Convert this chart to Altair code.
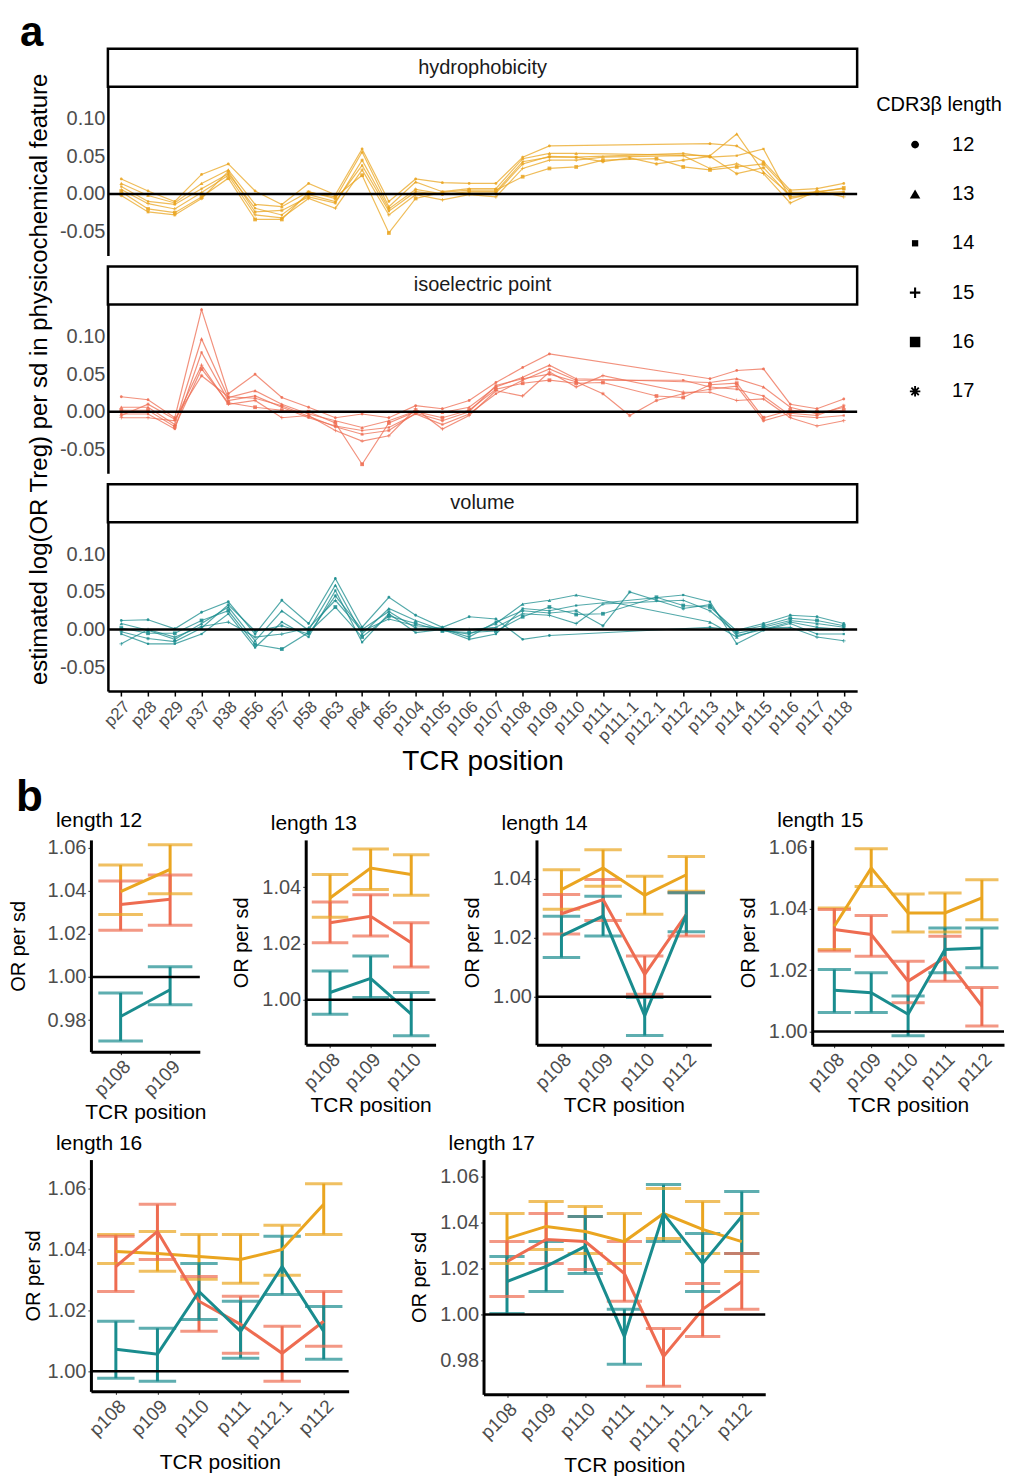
import altair as alt
import pandas as pd

FONT = "Liberation Sans"
GREY = "#4D4D4D"

# ---------------- panel a data ----------------
POSITIONS = ["p27", "p28", "p29", "p37", "p38", "p56", "p57", "p58", "p63", "p64", "p65",
             "p104", "p105", "p106", "p107", "p108", "p109", "p110", "p111", "p111.1",
             "p112.1", "p112", "p113", "p114", "p115", "p116", "p117", "p118"]
LENGTHS = ["12", "13", "14", "15", "16", "17"]
FEATURES = ["hydrophobicity", "isoelectric point", "volume"]
FEATURE_COLORS = ["#EAA520", "#EE6C51", "#198C8E"]
Y_TITLE_A = "estimated log(OR Treg) per sd in physicochemical feature"
N = None

# rows = positions (same order as POSITIONS), columns = CDR3b length 12..17
HYD = [
    [0.020, 0.014, 0.010, 0.006, 0.003, -0.002],
    [0.004, -0.002, -0.010, -0.013, -0.020, -0.024],
    [-0.010, -0.012, -0.014, -0.020, -0.025, -0.028],
    [0.026, 0.014, 0.007, 0.002, -0.004, -0.006],
    [0.040, 0.032, 0.027, 0.025, 0.021, 0.030],
    [0.004, -0.014, -0.019, -0.028, -0.034, -0.024],
    [-0.014, -0.017, -0.028, -0.032, -0.034, -0.022],
    [0.014, 0.003, -0.001, -0.006, 0.002, -0.004],
    [-0.001, -0.006, -0.010, -0.019, -0.004, -0.012],
    [0.060, 0.056, 0.038, 0.032, 0.025, 0.045],
    [-0.010, -0.017, -0.023, -0.028, -0.052, -0.020],
    [0.020, 0.016, 0.003, -0.001, -0.006, 0.006],
    [0.015, 0.003, -0.001, -0.008, 0.002, 0.000],
    [0.014, 0.007, 0.003, -0.001, 0.005, 0.001],
    [0.014, 0.007, 0.003, -0.004, 0.005, 0.001],
    [0.049, 0.047, 0.043, 0.034, 0.023, 0.040],
    [0.064, 0.054, 0.049, 0.045, 0.034, 0.050],
    [N, 0.054, 0.049, 0.045, 0.036, 0.049],
    [N, N, N, 0.049, 0.045, 0.043],
    [N, N, N, N, N, 0.048],
    [N, N, N, N, 0.047, 0.040],
    [N, N, 0.054, 0.051, 0.036, 0.045],
    [0.067, 0.051, 0.049, 0.034, 0.032, 0.050],
    [0.064, 0.080, 0.051, 0.040, 0.036, 0.027],
    [0.043, 0.029, 0.060, 0.027, 0.040, 0.035],
    [0.005, -0.001, -0.006, -0.012, 0.002, -0.004],
    [0.007, 0.003, 0.001, 0.004, 0.002, 0.000],
    [0.014, 0.007, 0.003, -0.004, 0.008, 0.001],
]
ISO = [
    [0.020, 0.006, -0.003, -0.008, 0.002, -0.005],
    [0.016, 0.006, -0.003, -0.008, 0.002, 0.010],
    [-0.008, -0.017, -0.023, -0.012, -0.020, -0.010],
    [0.136, 0.097, 0.079, 0.062, 0.057, 0.048],
    [0.024, 0.019, 0.015, 0.010, 0.012, 0.020],
    [0.050, 0.028, 0.021, 0.015, 0.006, 0.018],
    [0.019, 0.010, 0.006, -0.008, 0.002, 0.008],
    [0.006, -0.003, -0.008, -0.005, 0.000, -0.006],
    [-0.008, -0.012, -0.019, -0.025, -0.015, -0.020],
    [-0.003, -0.021, -0.025, -0.039, -0.070, -0.030],
    [-0.008, -0.012, -0.021, -0.032, -0.015, -0.025],
    [0.008, 0.001, -0.003, 0.004, 0.000, -0.002],
    [0.004, -0.001, -0.017, -0.023, -0.008, -0.012],
    [0.015, 0.006, -0.003, -0.005, 0.002, 0.000],
    [0.039, 0.033, 0.024, 0.028, 0.030, 0.035],
    [0.059, 0.046, 0.042, 0.021, 0.038, 0.044],
    [0.077, 0.062, 0.057, 0.053, 0.042, 0.050],
    [N, 0.044, 0.042, 0.033, 0.038, 0.040],
    [N, N, N, 0.048, 0.039, 0.024],
    [N, N, N, N, N, -0.005],
    [N, N, N, N, 0.021, 0.015],
    [N, N, 0.042, 0.026, 0.019, 0.024],
    [0.044, 0.039, 0.033, 0.026, 0.036, 0.030],
    [0.055, 0.044, 0.030, 0.015, 0.038, 0.034],
    [0.057, 0.033, 0.021, 0.017, -0.008, -0.012],
    [0.010, 0.006, -0.005, -0.008, 0.002, -0.002],
    [0.004, -0.003, -0.008, -0.019, 0.000, -0.005],
    [0.017, 0.006, -0.005, -0.012, 0.002, 0.008],
]
VOL = [
    [0.012, 0.008, -0.006, -0.019, 0.002, -0.003],
    [0.013, -0.001, -0.019, 0.000, -0.005, -0.012],
    [0.001, -0.013, -0.019, -0.010, -0.005, -0.016],
    [0.023, 0.008, -0.006, 0.004, 0.012, 0.002],
    [0.037, 0.030, 0.021, 0.010, 0.025, 0.033],
    [-0.006, -0.015, -0.024, -0.010, -0.020, -0.002],
    [0.039, 0.025, 0.010, -0.006, -0.026, 0.005],
    [0.008, -0.001, -0.010, 0.002, -0.004, -0.006],
    [0.068, 0.059, 0.052, 0.039, 0.030, 0.045],
    [0.003, -0.006, -0.017, -0.002, -0.010, 0.000],
    [0.043, 0.028, 0.021, 0.014, 0.018, 0.024],
    [0.019, 0.012, -0.004, 0.005, 0.008, 0.002],
    [0.003, -0.001, 0.000, 0.002, -0.002, 0.001],
    [0.017, -0.006, -0.013, 0.000, -0.004, -0.010],
    [0.014, 0.008, -0.006, 0.003, -0.002, 0.010],
    [-0.013, 0.034, 0.028, 0.021, 0.017, 0.025],
    [-0.008, 0.039, 0.025, 0.019, 0.030, 0.022],
    [N, 0.046, 0.032, 0.008, 0.020, 0.025],
    [N, N, N, 0.034, 0.021, 0.005],
    [N, N, N, N, N, 0.050],
    [N, N, N, N, 0.043, 0.039],
    [N, N, 0.046, 0.039, 0.032, 0.028],
    [0.003, 0.010, 0.037, 0.025, 0.030, 0.033],
    [-0.001, -0.010, -0.019, -0.005, -0.002, -0.008],
    [0.008, 0.003, -0.001, 0.002, 0.005, 0.000],
    [0.019, 0.012, 0.008, 0.003, 0.015, 0.010],
    [0.017, 0.008, -0.006, -0.010, 0.012, 0.003],
    [0.008, 0.003, -0.006, -0.015, 0.005, 0.000],
]

# ---------------- panel b data: (estimate, lower, upper) ----------------
L12_POS = ["p108", "p109"]
L12_HYD = [(1.0395, 1.0290, 1.0519), (1.0499, 1.0386, 1.0612)]
L12_ISO = [(1.0336, 1.0216, 1.0445), (1.0360, 1.0240, 1.0473)]
L12_VOL = [(0.9817, 0.9704, 0.9926), (0.9941, 0.9871, 1.0047)]

L13_POS = ["p108", "p109", "p110"]
L13_HYD = [(1.0361, 1.0293, 1.0444), (1.0467, 1.0391, 1.0535), (1.0444, 1.0371, 1.0514)]
L13_ISO = [(1.0273, 1.0202, 1.0347), (1.0296, 1.0226, 1.0373), (1.0202, 1.0116, 1.0273)]
L13_VOL = [(1.0026, 0.9949, 1.0102), (1.0076, 1.0008, 1.0155), (0.9949, 0.9873, 1.0026)]

L14_POS = ["p108", "p109", "p110", "p112"]
L14_HYD = [(1.0363, 1.0296, 1.0430), (1.0436, 1.0374, 1.0498), (1.0344, 1.0279, 1.0408), (1.0413, 1.0357, 1.0475)]
L14_ISO = [(1.0281, 1.0213, 1.0346), (1.0329, 1.0258, 1.0397), (1.0076, 1.0009, 1.0138), (1.0279, 1.0206, 1.0352)]
L14_VOL = [(1.0206, 1.0133, 1.0273), (1.0273, 1.0206, 1.0340), (0.9936, 0.9869, 0.9998), (1.0279, 1.0220, 1.0352)]

L15_POS = ["p108", "p109", "p110", "p111", "p112"]
L15_HYD = [(1.0343, 1.0267, 1.0402), (1.0532, 1.0472, 1.0595), (1.0386, 1.0324, 1.0448),
           (1.0386, 1.0324, 1.0451), (1.0435, 1.0364, 1.0494)]
L15_ISO = [(1.0332, 1.0262, 1.0397), (1.0316, 1.0245, 1.0378), (1.0164, 1.0094, 1.0229),
           (1.0240, 1.0164, 1.0310), (1.0083, 1.0018, 1.0143)]
L15_VOL = [(1.0134, 1.0062, 1.0202), (1.0126, 1.0062, 1.0191), (1.0056, 0.9986, 1.0116),
           (1.0267, 1.0191, 1.0337), (1.0272, 1.0208, 1.0337)]

L16_POS = ["p108", "p109", "p110", "p111", "p112.1", "p112"]
L16_HYD = [(1.0393, 1.0354, 1.0449), (1.0387, 1.0328, 1.0459), (1.0377, 1.0302, 1.0449),
           (1.0367, 1.0289, 1.0449), (1.0400, 1.0315, 1.0479), (1.0548, 1.0449, 1.0616)]
L16_ISO = [(1.0344, 1.0262, 1.0443), (1.0459, 1.0367, 1.0548), (1.0230, 1.0131, 1.0311),
           (1.0154, 1.0059, 1.0246), (1.0059, 0.9967, 1.0148), (1.0164, 1.0082, 1.0262)]
L16_VOL = [(1.0072, 0.9977, 1.0164), (1.0056, 0.9967, 1.0141), (1.0262, 1.0170, 1.0354),
           (1.0131, 1.0043, 1.0230), (1.0344, 1.0252, 1.0443), (1.0131, 1.0039, 1.0213)]

L17_POS = ["p108", "p109", "p110", "p111", "p111.1", "p112.1", "p112"]
L17_HYD = [(1.0330, 1.0222, 1.0439), (1.0383, 1.0283, 1.0491), (1.0361, 1.0265, 1.0470),
           (1.0317, 1.0222, 1.0439), (1.0439, 1.0330, 1.0548), (1.0370, 1.0265, 1.0491),
           (1.0317, 1.0187, 1.0439)]
L17_ISO = [(1.0230, 1.0078, 1.0317), (1.0326, 1.0222, 1.0439), (1.0317, 1.0196, 1.0426),
           (1.0178, 1.0057, 1.0317), (0.9817, 0.9687, 0.9939), (1.0022, 0.9904, 1.0135),
           (1.0143, 1.0022, 1.0265)]
L17_VOL = [(1.0143, 1.0004, 1.0252), (1.0209, 1.0100, 1.0317), (1.0296, 1.0178, 1.0426),
           (0.9904, 0.9783, 1.0022), (1.0439, 1.0317, 1.0565), (1.0222, 1.0100, 1.0352),
           (1.0426, 1.0265, 1.0535)]

# ---------------- shapes ----------------
CIRCLE_S = "M0,-0.75A0.75,0.75,0,1,1,0,0.75A0.75,0.75,0,1,1,0,-0.75Z"
SMALL_SQ = "M-0.6,-0.6L0.6,-0.6L0.6,0.6L-0.6,0.6Z"
PLUS = "M-0.2,-1L0.2,-1L0.2,-0.2L1,-0.2L1,0.2L0.2,0.2L0.2,1L-0.2,1L-0.2,0.2L-1,0.2L-1,-0.2L-0.2,-0.2Z"
ASTERISK = ("M-0.18,-1L0.18,-1L0.18,1L-0.18,1Z M1,-0.18L1,0.18L-1,0.18L-1,-0.18Z "
            "M0.58,-0.83L0.83,-0.58L-0.58,0.83L-0.83,0.58Z M0.83,0.58L0.58,0.83L-0.83,-0.58L-0.58,-0.83Z")
SHAPES = [CIRCLE_S, "triangle-up", SMALL_SQ, PLUS, "square", ASTERISK]
shape_scale = alt.Scale(domain=LENGTHS, range=SHAPES)

HYPHEN_LABEL = "replace(format(datum.value, '.2f'), '\u2212', '-')"

# ---------------- panel a ----------------
rows = []
for feat, table in zip(FEATURES, [HYD, ISO, VOL]):
    for i, (pos, vals) in enumerate(zip(POSITIONS, table)):
        for L, v in zip(LENGTHS, vals):
            if v is not None:
                rows.append({"feature": feat, "position": pos, "idx": i, "length": L, "value": v})
df_a = pd.DataFrame(rows)

A_PLOT_W, A_SHIFT, A_H, STRIP_H = 750, 17, 207, 38
A_W = A_PLOT_W + A_SHIFT
A_YDOM = [-0.082, 0.143]


def panel_a(feat, color, which):
    d = df_a[df_a.feature == feat]
    if which == 2:
        xaxis = alt.Axis(title="TCR position", labelAngle=-45, labelAlign="right", labelBaseline="top",
                         labelFontSize=17, labelColor=GREY, labelPadding=2, tickColor="black",
                         tickSize=5, tickWidth=1.5, domainColor="black", domainWidth=2.5,
                         titleFontSize=28, titleFontWeight="normal", titleColor="black", titlePadding=2,
                         titleX=A_SHIFT + A_PLOT_W / 2)
    else:
        xaxis = None
    x = alt.X("position:N", scale=alt.Scale(type="point", domain=POSITIONS, padding=0.5,
                                            range=[A_SHIFT, A_W]), axis=xaxis)
    y = alt.Y("value:Q", scale=alt.Scale(domain=A_YDOM, range=[A_H, STRIP_H], nice=False, zero=False),
              axis=alt.Axis(values=[-0.05, 0, 0.05, 0.1], labelExpr=HYPHEN_LABEL, title=None, grid=False,
                            ticks=False, labelFontSize=20, labelColor=GREY, labelPadding=3,
                            domainColor="black", domainWidth=2.5, offset=-A_SHIFT))
    lines = alt.Chart(d).mark_line(color=color, strokeWidth=1.2, opacity=0.75).encode(
        x=x, y=y, detail="length:N", order="idx:Q")
    pts = alt.Chart(d).mark_point(filled=True, color=color, size=14, opacity=0.85).encode(
        x=x, y=y, shape=alt.Shape("length:N", scale=shape_scale, legend=None))
    zero = alt.Chart(pd.DataFrame({"value": [0.0]})).mark_rule(color="black", strokeWidth=2.5).encode(
        y=y, x=alt.value(A_SHIFT), x2=alt.value(A_W))
    sdf = pd.DataFrame({"feature": [feat]})
    strip = alt.Chart(sdf).mark_rect(fill="white", stroke="black", strokeWidth=2.5).encode(
        x=alt.value(A_SHIFT), x2=alt.value(A_W), y=alt.value(0), y2=alt.value(STRIP_H))
    stext = alt.Chart(sdf).mark_text(font=FONT, fontSize=20, color="#1A1A1A").encode(
        x=alt.value(A_SHIFT + A_PLOT_W / 2), y=alt.value(STRIP_H / 2), text="feature:N")
    layers = [lines, pts, zero, strip, stext]
    if which == 1:
        ttl = alt.Chart(pd.DataFrame({"t": [Y_TITLE_A]})).mark_text(
            angle=270, align="center", baseline="middle", fontSize=24, font=FONT, color="black").encode(
            x=alt.value(A_SHIFT - 68), y=alt.value(113), text="t:N")
        layers.append(ttl)
    return alt.layer(*layers).properties(width=A_W, height=A_H)


rowA = alt.vconcat(
    panel_a(FEATURES[0], FEATURE_COLORS[0], 0),
    panel_a(FEATURES[1], FEATURE_COLORS[1], 1),
    panel_a(FEATURES[2], FEATURE_COLORS[2], 2),
    spacing=11, bounds="flush",
)

# legend drawn as a small chart
leg_df = pd.DataFrame({"length": LENGTHS})
ly = alt.Y("length:N", scale=alt.Scale(type="point", domain=LENGTHS, range=[96, 343], padding=0), axis=None)
leg_pts = alt.Chart(leg_df).mark_point(filled=True, color="black", size=110, opacity=1).encode(
    x=alt.value(39), y=ly, shape=alt.Shape("length:N", scale=shape_scale, legend=None))
leg_txt = alt.Chart(leg_df).mark_text(align="left", baseline="middle", fontSize=20, font=FONT,
                                      color="black").encode(x=alt.value(76), y=ly, text="length:N")
leg_title = alt.Chart(pd.DataFrame({"t": ["CDR3β length"]})).mark_text(
    align="left", baseline="middle", fontSize=20, font=FONT, color="black").encode(
    x=alt.value(0), y=alt.value(56), text="t:N")
legend = alt.layer(leg_title, leg_pts, leg_txt).properties(width=120, height=360)

topA = alt.hconcat(rowA, legend, spacing=17)


# ---------------- panel b ----------------
def panel_b(L, pos, hyd, iso, vol, w, h, ydom, yticks, tpad):
    rws = []
    for feat, vals in zip(FEATURES, [hyd, iso, vol]):
        for i, (p, (e, lo, hi)) in enumerate(zip(pos, vals)):
            rws.append({"feature": feat, "position": p, "idx": i, "est": e, "lo": lo, "hi": hi})
    d = pd.DataFrame(rws)
    step = w / (len(pos) - 1 + 1.2)
    x = alt.X("position:N", scale=alt.Scale(type="point", domain=pos, padding=0.6),
              axis=alt.Axis(title="TCR position", labelAngle=-45, labelAlign="right", labelBaseline="top",
                            labelFontSize=19, labelColor=GREY, labelPadding=2, tickColor="#333333",
                            tickSize=3, domainColor="black", domainWidth=3, titleFontSize=21,
                            titleFontWeight="normal", titleColor="black", titlePadding=2))
    yscale = alt.Scale(domain=ydom, nice=False, zero=False)
    yaxis = alt.Axis(values=yticks, format=".2f", title="OR per sd", grid=False, labelFontSize=20,
                     labelColor=GREY, labelPadding=2, tickColor="#333333", tickSize=3,
                     domainColor="black", domainWidth=3, titleFontSize=20, titleFontWeight="normal",
                     titleColor="black", titlePadding=tpad)

    def yd(field):
        return alt.Y(field + ":Q", scale=yscale, axis=yaxis)

    color = alt.Color("feature:N", scale=alt.Scale(domain=FEATURES, range=FEATURE_COLORS), legend=None)
    bars = alt.Chart(d).mark_rule(strokeWidth=3).encode(x=x, y=yd("lo"), y2="hi:Q", color=color)
    cap_lo = alt.Chart(d).mark_tick(thickness=3, size=0.9 * step).encode(x=x, y=yd("lo"), color=color)
    cap_hi = alt.Chart(d).mark_tick(thickness=3, size=0.9 * step).encode(x=x, y=yd("hi"), color=color)
    line = alt.Chart(d).mark_line(strokeWidth=3).encode(x=x, y=yd("est"), color=color, order="idx:Q",
                                                        detail="feature:N")
    one = alt.Chart(pd.DataFrame({"est": [1.0]})).mark_rule(color="black", strokeWidth=2.5).encode(y=yd("est"))
    return alt.layer(bars, cap_lo, cap_hi, line, one).properties(
        width=w, height=h,
        title=alt.TitleParams("length " + L, anchor="start", frame="group", dx=-35, fontSize=21,
                              fontWeight="normal", color="black", offset=6))


b12 = panel_b("12", L12_POS, L12_HYD, L12_ISO, L12_VOL, 109, 212, [0.9654, 1.0635],
              [0.98, 1.00, 1.02, 1.04, 1.06], 19)
b13 = panel_b("13", L13_POS, L13_HYD, L13_ISO, L13_VOL, 130, 205, [0.9841, 1.0567], [1.00, 1.02, 1.04], 10)
b14 = panel_b("14", L14_POS, L14_HYD, L14_ISO, L14_VOL, 175, 205, [0.9838, 1.0531], [1.00, 1.02, 1.04], 10)
b15 = panel_b("15", L15_POS, L15_HYD, L15_ISO, L15_VOL, 192, 205, [0.9957, 1.0624],
              [1.00, 1.02, 1.04, 1.06], 10)
b16 = panel_b("16", L16_POS, L16_HYD, L16_ISO, L16_VOL, 258, 232, [0.9934, 1.0695],
              [1.00, 1.02, 1.04, 1.06], 4)
b17 = panel_b("17", L17_POS, L17_HYD, L17_ISO, L17_VOL, 282, 235, [0.9652, 1.0674],
              [0.98, 1.00, 1.02, 1.04, 1.06], 10)

rowB1 = alt.hconcat(b12, b13, b14, b15, spacing=25)
rowB2 = alt.hconcat(b16, b17, spacing=59)
rowB = alt.vconcat(rowB1, rowB2, spacing=9).properties(
    title=alt.TitleParams("b", anchor="start", fontSize=44, fontWeight="bold", color="black", dx=8, offset=-10))

chart = alt.vconcat(topA, rowB, spacing=0).properties(
    title=alt.TitleParams("a", anchor="start", fontSize=42, fontWeight="bold", color="black", dx=12, offset=-8),
    padding={"left": 0, "top": 3, "right": 0, "bottom": 0},
).configure_view(strokeWidth=0).configure_axis(labelFont=FONT, titleFont=FONT).configure_title(font=FONT)

chart.save("out.html", embed_options={"renderer": "svg", "actions": False})
